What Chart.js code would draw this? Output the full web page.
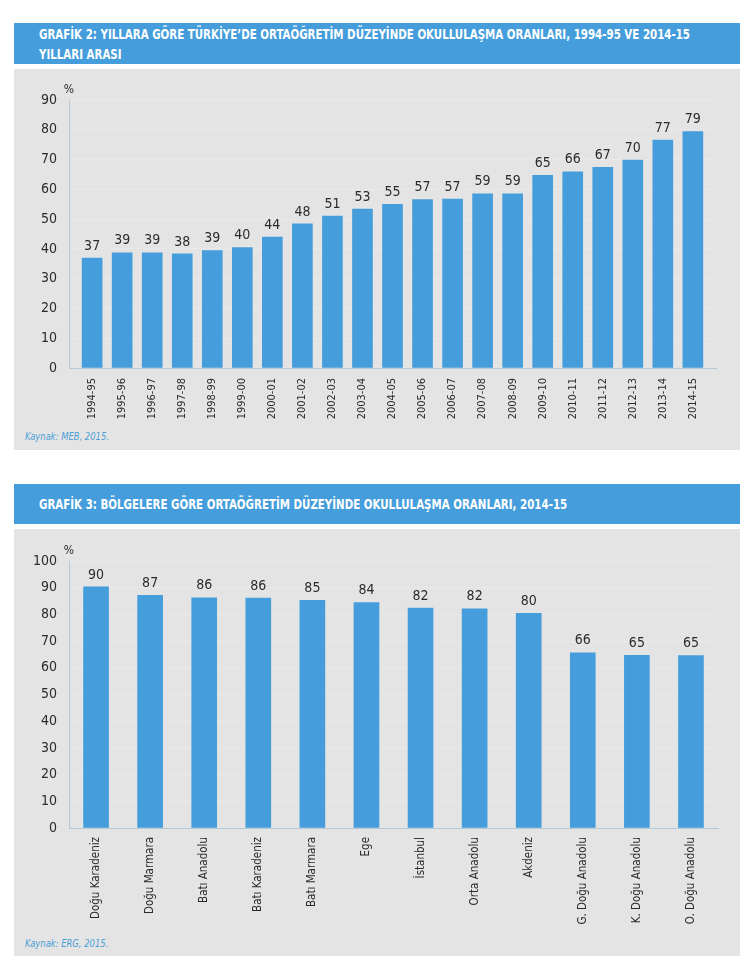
<!DOCTYPE html>
<html lang="tr">
<head>
<meta charset="utf-8">
<title>Ortaöğretim okullulaşma oranları</title>
<script src="https://cdn.jsdelivr.net/npm/chart.js@4.4.1/dist/chart.umd.min.js"></script>
<style>
  html, body { margin: 0; padding: 0; background: #fff; }
  body { width: 750px; height: 966px; position: relative; overflow: hidden;
         font-family: "Liberation Sans Narrow", "DejaVu Sans Condensed", "Roboto Condensed", "Arial Narrow", sans-serif; }
  .head { position: absolute; left: 14px; width: 726px; background: #459edb; color: #fff;
          font-weight: bold; font-size: 14px; line-height: 20px; box-sizing: border-box; padding-left: 25px; }
  .head span { display: inline-block; white-space: nowrap; transform: scaleX(0.815); transform-origin: 0 0; }
  .panel { position: absolute; left: 14px; width: 726px; background: #e4e4e4; }
  .panel canvas { position: absolute; left: 0; top: 0; }
  .src { position: absolute; left: 11px; font-size: 11px; font-style: italic; color: #4a9fd9; }
  .src span { display: inline-block; transform: scaleX(0.85); transform-origin: 0 0; }
</style>
</head>
<body>

<div class="head" style="top:23px; height:41px; padding-top:1px;"><span>GRAFİK 2: YILLARA GÖRE TÜRKİYE’DE ORTAÖĞRETİM DÜZEYİNDE OKULLULAŞMA ORANLARI, 1994-95 VE 2014-15<br>YILLARI ARASI</span></div>
<div class="panel" style="top:69px; height:381px;">
  <div style="position:absolute; left:0; top:0; width:726px; height:360px;"><canvas id="yearChart"></canvas></div>
  <div class="src" style="top:361px;"><span>Kaynak: MEB, 2015.</span></div>
</div>

<div class="head" style="top:484px; height:40px; padding-top:10px;"><span>GRAFİK 3: BÖLGELERE GÖRE ORTAÖĞRETİM DÜZEYİNDE OKULLULAŞMA ORANLARI, 2014-15</span></div>
<div class="panel" style="top:529px; height:427px;">
  <div style="position:absolute; left:0; top:0; width:726px; height:405px;"><canvas id="regionChart"></canvas></div>
  <div class="src" style="top:408px;"><span>Kaynak: ERG, 2015.</span></div>
</div>

<script>
// Grafik 2: yillara gore
const years = ['1994-95', '1995-96', '1996-97', '1997-98', '1998-99', '1999-00', '2000-01',
    '2001-02', '2002-03', '2003-04', '2004-05', '2005-06', '2006-07', '2007-08', '2008-09',
    '2009-10', '2010-11', '2011-12', '2012-13', '2013-14', '2014-15'];
const yearRates = [36.9, 38.7, 38.7, 38.3, 39.4, 40.4, 44.0, 48.4, 51.0, 53.4, 55.0, 56.6,
    56.7, 58.5, 58.5, 64.7, 65.9, 67.4, 69.8, 76.5, 79.4];
const yearTicks = [0, 10, 20, 30, 40, 50, 60, 70, 80, 90];

// Grafik 3: bolgelere gore
const regions = ['Doğu Karadeniz', 'Doğu Marmara', 'Batı Anadolu', 'Batı Karadeniz', 'Batı Marmara',
    'Ege', 'İstanbul', 'Orta Anadolu', 'Akdeniz', 'G. Doğu Anadolu', 'K. Doğu Anadolu', 'O. Doğu Anadolu'];
const regionRates = [90.3, 87.1, 86.2, 86.1, 85.3, 84.4, 82.4, 82.1, 80.4, 65.6, 64.7, 64.6];
const regionTicks = [0, 10, 20, 30, 40, 50, 60, 70, 80, 90, 100];

const FONT = '"Liberation Sans Narrow", "DejaVu Sans Condensed", "Roboto Condensed", "Arial Narrow", sans-serif';
const BLUE = '#459edb';
const AXIS = '#b3c9d8';
const GRID = '#e9e9e9';
const TEXT = '#2b2b2b';

// draws the value above each bar and the % sign on top of the y axis
const barLabels = {
    id: 'barLabels',
    afterDatasetsDraw(chart) {
        const ctx = chart.ctx;
        const meta = chart.getDatasetMeta(0);
        ctx.save();
        ctx.fillStyle = TEXT;
        ctx.font = '14px ' + FONT;
        ctx.textAlign = 'center';
        ctx.textBaseline = 'bottom';
        meta.data.forEach((bar, i) => {
            const v = chart.data.datasets[0].data[i];
            const val = typeof v === 'object' ? v.y : v;
            ctx.fillText(Math.round(val), bar.x, bar.y - 5);
        });
        ctx.font = '12px ' + FONT;
        ctx.fillText('%', chart.chartArea.left, chart.chartArea.top - 4);
        ctx.restore();
    }
};

function yScale(ticks) {
    return {
        min: ticks[0],
        max: ticks[ticks.length - 1],
        afterBuildTicks: s => { s.ticks = ticks.map(t => ({ value: t })); },
        afterFit: s => { s.width = 55; },
        grid: { color: GRID, drawTicks: false },
        border: { display: true, color: AXIS },
        ticks: { color: TEXT, padding: 12, font: { family: FONT, size: 14 } }
    };
}

Chart.defaults.animation = false;

new Chart(document.getElementById('yearChart'), {
    type: 'bar',
    data: {
        datasets: [{
            data: years.map((y, i) => ({ x: i, y: yearRates[i] })),
            backgroundColor: BLUE,
            barThickness: 20
        }]
    },
    options: {
        responsive: true,
        maintainAspectRatio: false,
        layout: { padding: { left: 0, right: 24, top: 31, bottom: 0 } },
        plugins: { legend: { display: false }, tooltip: { enabled: false } },
        scales: {
            x: {
                type: 'linear',
                offset: false,
                min: -0.77,
                max: years.length - 1 + 0.77,
                afterBuildTicks: s => { s.ticks = years.map((y, i) => ({ value: i })); },
                afterFit: s => { s.height = 61; },
                grid: { display: false },
                border: { display: true, color: AXIS },
                ticks: {
                    color: TEXT, padding: 2, autoSkip: false, maxRotation: 90, minRotation: 90,
                    font: { family: FONT, size: 11 },
                    callback: v => years[v]
                }
            },
            y: yScale(yearTicks)
        }
    },
    plugins: [barLabels]
});

new Chart(document.getElementById('regionChart'), {
    type: 'bar',
    data: {
        labels: regions,
        datasets: [{
            data: regionRates,
            backgroundColor: BLUE,
            barThickness: 25
        }]
    },
    options: {
        responsive: true,
        maintainAspectRatio: false,
        layout: { padding: { left: 0, right: 22, top: 32, bottom: 0 } },
        plugins: { legend: { display: false }, tooltip: { enabled: false } },
        scales: {
            x: {
                afterFit: s => { s.height = 106; },
                grid: { display: false },
                border: { display: true, color: AXIS },
                ticks: {
                    color: TEXT, padding: 1, autoSkip: false, maxRotation: 90, minRotation: 90,
                    font: { family: FONT, size: 11.5 }
                }
            },
            y: yScale(regionTicks)
        }
    },
    plugins: [barLabels]
});
</script>
</body>
</html>
